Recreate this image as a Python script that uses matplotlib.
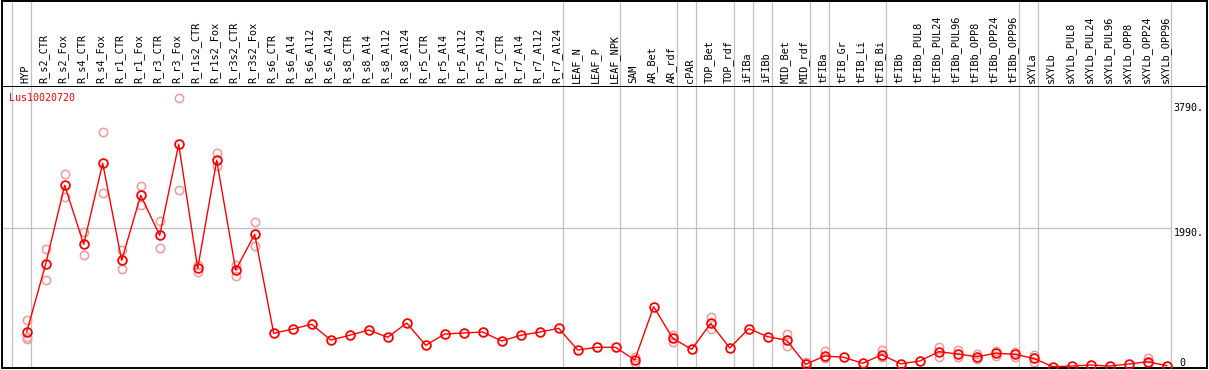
import matplotlib.pyplot as plt
import numpy as np

# sample names (column headers)
samples = ["HYP", "R_s2_CTR", "R_s2_Fox", "R_s4_CTR", "R_s4_Fox", "R_r1_CTR", "R_r1_Fox",
           "R_r3_CTR", "R_r3_Fox", "R_r1s2_CTR", "R_r1s2_Fox", "R_r3s2_CTR", "R_r3s2_Fox",
           "R_s6_CTR", "R_s6_Al4", "R_s6_Al12", "R_s6_Al24", "R_s8_CTR", "R_s8_Al4",
           "R_s8_Al12", "R_s8_Al24", "R_r5_CTR", "R_r5_Al4", "R_r5_Al12", "R_r5_Al24",
           "R_r7_CTR", "R_r7_Al4", "R_r7_Al12", "R_r7_Al24", "LEAF_N", "LEAF_P", "LEAF_NPK",
           "SAM", "AR_Bet", "AR_rdf", "cPAR", "TOP_Bet", "TOP_rdf", "iFIBa", "iFIBb",
           "MID_Bet", "MID_rdf", "tFIBa", "tFIB_Gr", "tFIB_Li", "tFIB_Bi", "tFIBb",
           "tFIBb_PUL8", "tFIBb_PUL24", "tFIBb_PUL96", "tFIBb_OPP8", "tFIBb_OPP24",
           "tFIBb_OPP96", "sXYLa", "sXYLb", "sXYLb_PUL8", "sXYLb_PUL24", "sXYLb_PUL96",
           "sXYLb_OPP8", "sXYLb_OPP24", "sXYLb_OPP96"]

# mean expression
means = [500, 1477, 2608, 1760, 2924, 1530, 2464, 1890, 3197, 1415, 2967, 1391, 1904,
         481, 543, 611, 385, 453, 529, 424, 629, 309, 471, 486, 500, 371, 453, 500, 553,
         241, 280, 280, 98, 864, 410, 251, 625, 270, 548, 433, 381, 36, 155, 137, 50,
         174, 43, 83, 217, 184, 145, 194, 180, 122, 2, 11, 26, 11, 40, 73, 16]

# replicate values (only the ones that show apart from the mean)
reps = {0: [672, 424, 400], 1: [1693, 1243], 2: [2766, 2444], 3: [1933, 1602],
        4: [3370, 2493], 5: [1678, 1401], 6: [2598, 2329], 7: [2095, 1707],
        8: [3858, 2541], 9: [1463, 1358], 10: [3072, 2885], 11: [1463, 1309],
        12: [2076, 1736], 32: [145, 50], 34: [457, 352], 36: [720, 539],
        40: [471, 299], 41: [65], 42: [227, 122], 45: [241, 145], 48: [280, 137],
        49: [241, 137], 50: [184, 112], 51: [231, 155], 52: [217, 137], 53: [170, 65],
        59: [131, 50]}

# group boundaries (after these sample indices)
breaks = [-1, 0, 28, 31, 34, 35, 37, 38, 39, 41, 42, 45, 52, 53, 60]
ytick_vals = [3790, 1990]

W, H = 1209, 370
fig = plt.figure(figsize=(W / 100, H / 100), dpi=100)
font = "DejaVu Sans Mono"

def px(x0, y0, x1, y1):
    # pixel box (top-left origin) -> figure rect
    return [x0 / W, 1 - y1 / H, (x1 - x0) / W, (y1 - y0) / H]

ax = fig.add_axes(px(2, 86, 1207, 368))
axh = fig.add_axes(px(2, 1, 1207, 86), sharex=ax)

xs = np.arange(len(samples))
xlim = ((2 - 26.7) / 19, (1207 - 26.7) / 19)
ax.set_xlim(*xlim)
ax.set_ylim(-17, 4035)
axh.set_ylim(0, 1)

for a in (ax, axh):
    a.set_xticks([])
    a.set_yticks([])
    for s in a.spines.values():
        s.set_color("black")
        s.set_linewidth(1.4)
axh.spines["bottom"].set_visible(False)

# separators
for b in breaks:
    ax.axvline(b + 0.21, color="#c0c0c0", lw=0.9, zorder=1)
    axh.axvline(b + 0.21, color="#c0c0c0", lw=0.9, zorder=1)
ax.plot([xlim[0], 60.21], [1990, 1990], color="#c0c0c0", lw=0.9, zorder=1)

# replicates
for i, vals in reps.items():
    ax.plot([i] * len(vals), vals, "o", ms=6, mfc="none", mec="#f09a9a", mew=1.1, zorder=2)

ax.plot(xs, means, "-", color="red", lw=1.0, zorder=3)
ax.plot(xs, means, "o", ms=6.3, mfc="none", mec="red", mew=1.3, zorder=4)

# header labels
for i, name in enumerate(samples):
    axh.text(i - 0.08, 0.03, name, rotation=90, ha="center", va="bottom",
             fontsize=7.4, family=font)

for v in ytick_vals:
    ax.text(61.95, v, "%d." % v, ha="right", va="top", fontsize=7.2, family=font)
ax.text(60.65, 60, "0", ha="left", va="center", fontsize=7.2, family=font)

fig.text(9 / W, 1 - 98 / H, "Lus10020720", color="red", ha="left", va="center",
         fontsize=7.2, family=font)

plt.savefig("out.png", dpi=100)
